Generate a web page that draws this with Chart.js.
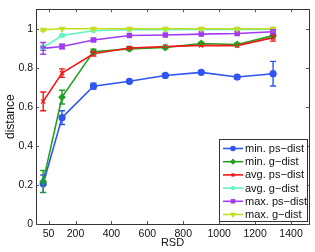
<!DOCTYPE html>
<html>
<head>
<meta charset="utf-8">
<script src="https://cdn.jsdelivr.net/npm/chart.js@4.4.1/dist/chart.umd.min.js"></script>
<style>
  html, body { margin: 0; padding: 0; background: #fff; }
  #wrap { width: 315px; height: 252px; }
</style>
</head>
<body>
<div id="wrap"><canvas id="chart"></canvas></div>
<script>
// RSD values (x axis)
const rsd = [20, 125, 300, 500, 700, 900, 1100, 1300];
const xTicks = [50, 200, 400, 600, 800, 1000, 1200, 1400];
const yTicks = [0, 0.2, 0.4, 0.6, 0.8, 1];

const labels = ['min. ps\u2212dist', 'min. g\u2212dist', 'avg. ps\u2212dist', 'avg. g\u2212dist', 'max. ps\u2212dist', 'max. g\u2212dist'];

const minPs    = [0.206, 0.545, 0.706, 0.731, 0.761, 0.777, 0.753, 0.770];
const minPsErr = [0.045, 0.035, 0.015, 0.008, 0.006, 0.006, 0.008, 0.063];
const minG     = [0.218, 0.650, 0.883, 0.897, 0.904, 0.925, 0.920, 0.965];
const minGErr  = [0.056, 0.035, 0.012, 0.008, 0.006, 0.006, 0.006, 0.010];
const avgPs    = [0.628, 0.773, 0.872, 0.902, 0.909, 0.915, 0.914, 0.955];
const avgPsErr = [0.048, 0.022, 0.012, 0.006, 0.005, 0.005, 0.005, 0.018];
const avgG     = [0.905, 0.966, 0.990, 0.995, 0.996, 0.997, 0.997, 0.998];
const avgGErr  = [0.010, 0.006, 0.003, 0.002, 0.002, 0.002, 0.002, 0.002];
const maxPs    = [0.900, 0.909, 0.943, 0.966, 0.968, 0.973, 0.976, 0.985];
const maxPsErr = [0.030, 0.012, 0.006, 0.004, 0.004, 0.004, 0.004, 0.010];
const maxG     = [0.995, 1.000, 1.000, 1.000, 1.000, 1.000, 1.000, 1.000];
const maxGErr  = [0.006, 0.003, 0.002, 0.002, 0.002, 0.002, 0.002, 0.004];

const colors = ['#2f55f2', '#22a022', '#f01818', '#5ef5c4', '#a23cf2', '#c2de22'];
const markers = ['circle', 'rectRot', 'crossRot', 'star', 'rect', 'triangle'];
const series = [minPs, minG, avgPs, avgG, maxPs, maxG];
const errors = [minPsErr, minGErr, avgPsErr, avgGErr, maxPsErr, maxGErr];

const FONT = 'Liberation Sans, Arial, sans-serif';

const datasets = series.map((s, i) => ({
  label: labels[i],
  data: s.map((v, j) => ({ x: rsd[j], y: v })),
  err: errors[i],
  borderColor: colors[i],
  backgroundColor: colors[i],
  borderWidth: 1.6,
  pointStyle: markers[i],
  pointRadius: 3,
  pointBorderWidth: 1.2,
  pointRotation: i == 5 ? 180 : 0,
  order: 6 - i
}));

// box, inward ticks, error bars, legend
const matlabStuff = {
  id: 'matlabStuff',
  afterDatasetsDraw(chart) {
    const ctx = chart.ctx;
    const a = chart.chartArea;
    const xs = chart.scales.x, ys = chart.scales.y;

    // error bars
    chart.data.datasets.forEach((ds) => {
      ctx.save();
      ctx.strokeStyle = ds.borderColor;
      ctx.lineWidth = 1.4;
      ds.data.forEach((p, j) => {
        const e = ds.err[j];
        const px = xs.getPixelForValue(p.x);
        const top = ys.getPixelForValue(p.y + e);
        const bot = ys.getPixelForValue(p.y - e);
        if (bot - top < 2) return;
        ctx.beginPath();
        ctx.moveTo(px, top); ctx.lineTo(px, bot);
        ctx.moveTo(px - 3, top); ctx.lineTo(px + 3, top);
        ctx.moveTo(px - 3, bot); ctx.lineTo(px + 3, bot);
        ctx.stroke();
      });
      ctx.restore();
    });

    // axes box and ticks
    ctx.save();
    ctx.strokeStyle = '#333';
    ctx.lineWidth = 1;
    ctx.strokeRect(Math.round(a.left) + 0.5, Math.round(a.top) + 0.5,
      Math.round(a.right - a.left), Math.round(a.bottom - a.top));
    ctx.strokeStyle = '#555';
    ctx.beginPath();
    xTicks.forEach((t) => {
      const px = Math.round(xs.getPixelForValue(t)) + 0.5;
      ctx.moveTo(px, a.bottom); ctx.lineTo(px, a.bottom - 3);
      ctx.moveTo(px, a.top); ctx.lineTo(px, a.top + 3);
    });
    yTicks.forEach((t) => {
      const py = Math.round(ys.getPixelForValue(t)) + 0.5;
      ctx.moveTo(a.left, py); ctx.lineTo(a.left + 3, py);
      ctx.moveTo(a.right, py); ctx.lineTo(a.right - 3, py);
    });
    ctx.stroke();
    ctx.restore();

    // legend
    const lx = 219, ly = 139, lw = 88, lh = 82;
    ctx.save();
    ctx.fillStyle = '#fff';
    ctx.fillRect(lx, ly, lw, lh);
    ctx.strokeStyle = '#333';
    ctx.lineWidth = 1;
    ctx.strokeRect(lx + 0.5, ly + 0.5, lw, lh);
    ctx.font = '11px ' + FONT;
    ctx.textBaseline = 'middle';
    chart.data.datasets.forEach((ds, i) => {
      const cy = ly + 9.5 + i * 13.2;
      ctx.strokeStyle = ds.borderColor;
      ctx.lineWidth = 1.6;
      ctx.beginPath();
      ctx.moveTo(lx + 4, cy); ctx.lineTo(lx + 24, cy);
      ctx.stroke();
      ctx.fillStyle = ds.borderColor;
      Chart.helpers.drawPoint(ctx, {
        pointStyle: ds.pointStyle, radius: 2, rotation: ds.pointRotation, borderWidth: 1
      }, lx + 14, cy);
      ctx.fillStyle = '#111';
      ctx.fillText(ds.label, lx + 26, cy + 0.5);
    });
    ctx.restore();
  }
};

new Chart(document.getElementById('chart'), {
  type: 'line',
  data: { datasets: datasets },
  options: {
    responsive: true,
    maintainAspectRatio: false,
    animation: false,
    layout: { padding: { left: 0, top: 7, right: 6, bottom: 0 } },
    plugins: { legend: { display: false }, tooltip: { enabled: false } },
    scales: {
      x: {
        type: 'linear',
        min: -20,
        max: 1500,
        afterBuildTicks: (scale) => { scale.ticks = xTicks.map((v) => ({ value: v })); },
        afterFit: (scale) => { scale.height = 28; },
        grid: { display: false, drawTicks: false },
        border: { display: false },
        ticks: { color: '#111', font: { family: FONT, size: 10.5 }, padding: 4, maxRotation: 0, autoSkip: false,
          callback: (v) => String(v) },
        title: { display: true, text: 'RSD', color: '#111', font: { family: FONT, size: 11 }, padding: { top: 0, bottom: 2 } }
      },
      y: {
        min: 0,
        max: 1.1,
        afterBuildTicks: (scale) => { scale.ticks = yTicks.map((v) => ({ value: v })); },
        afterFit: (scale) => { scale.width = 36; },
        grid: { display: false, drawTicks: false },
        border: { display: false },
        ticks: { color: '#111', font: { family: FONT, size: 10.5 }, padding: 3,
          callback: (v) => String(v) },
        title: { display: true, text: 'distance', color: '#111', font: { family: FONT, size: 12 }, padding: { top: 3, bottom: 0 } }
      }
    }
  },
  plugins: [matlabStuff]
});
</script>
</body>
</html>
